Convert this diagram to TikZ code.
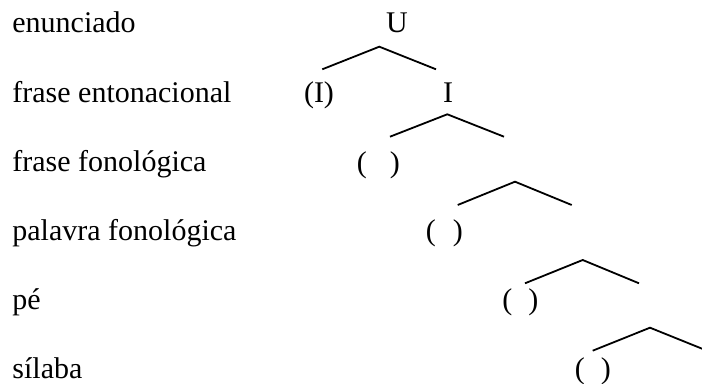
\documentclass[tikz,border=0pt]{standalone}
\usepackage{fontspec}
\setmainfont{Liberation Serif}
\begin{document}
\begin{tikzpicture}[x=0.5pt,y=-0.5pt,
  txt/.style={inner sep=0pt, font=\fontsize{15}{18}\selectfont},
  lbl/.style={txt, anchor=base west},
  cat/.style={txt, anchor=base},
  br/.style={line width=0.9pt}]
\useasboundingbox (0,0) rectangle (702,384);
\clip (0,0) rectangle (702,384);
% level labels
\node[lbl] (l1) at (12,33)  {enunciado};
\node[lbl] (l2) at (12,103) {frase entonacional};
\node[lbl] (l3) at (12,172) {frase fonológica};
\node[lbl] (l4) at (12,241) {palavra fonológica};
\node[lbl] (l5) at (12,310) {pé};
\node[lbl] (l6) at (12,379) {sílaba};
% categories
\node[cat] (U) at (397,33) {U};
\node[cat] (Ip) at (319,103) {(I)};
\node[cat] (I) at (448,103) {I};
\node[lbl] (p3) at (356.5,173) {(\hspace{11.5pt})};
\node[lbl] (p4) at (425.5,241) {(\hspace{8.5pt})};
\node[lbl] (p5) at (502,310) {(\hspace{8pt})};
\node[lbl] (p6) at (574.5,379) {(\hspace{8pt})};
% branches
\coordinate (a1) at (379.3,46.7); \coordinate (b1l) at (322.3,69.3); \coordinate (b1r) at (436,69.3);
\coordinate (a2) at (447.3,114.3); \coordinate (b2l) at (390,136.7); \coordinate (b2r) at (504,136.7);
\coordinate (a3) at (515,181.7); \coordinate (b3l) at (457.7,205); \coordinate (b3r) at (571.7,205);
\coordinate (a4) at (582.7,260); \coordinate (b4l) at (525,283.3); \coordinate (b4r) at (639,283.3);
\coordinate (a5) at (650,327.7); \coordinate (b5l) at (592.7,350.7); \coordinate (b5r) at (707,350.7);
\foreach \k in {1,...,5} {
  \draw[br] (b\k l) -- (a\k) -- (b\k r);
}
\end{tikzpicture}
\end{document}
